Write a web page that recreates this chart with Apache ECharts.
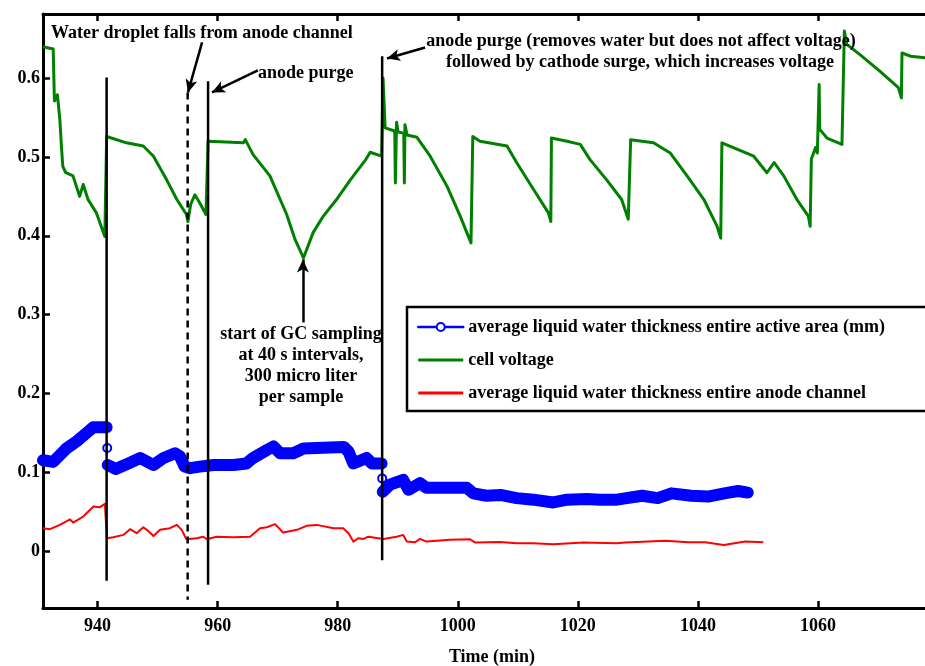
<!DOCTYPE html>
<html><head><meta charset="utf-8">
<script src="https://cdn.jsdelivr.net/npm/echarts@6/dist/echarts.min.js"></script>
<style>html,body{margin:0;padding:0;background:#fff}#c{width:925px;height:666px}</style>
</head><body><div id="c"></div>
<script>
// ---------------- data ----------------
const xTicks = [940, 960, 980, 1000, 1020, 1040, 1060];
const yTicks = [0, 0.1, 0.2, 0.3, 0.4, 0.5, 0.6];
const seriesNames = [
  'average liquid water thickness entire active area (mm)',
  'cell voltage',
  'average liquid water thickness entire anode channel'
];

// cell voltage (green)
const voltTime = [930.9,932.6,932.8,933.3,933.5,933.7,934.0,934.2,934.7,935.9,937.0,937.6,938.4,939.8,941.2,
  941.5,944.8,947.6,949.3,951.5,953.2,954.8,955.05,955.5,956.2,957.0,958.05,
  958.4,964.3,964.6,965.9,968.7,971.5,972.9,974.3,975.9,977.6,979.8,982.1,984.7,985.4,987.3,
  987.55,987.9,989.5,989.6,989.8,990.05,991.0,991.1,991.2,991.55,993.2,995.4,998.2,1000.4,1002.2,
  1002.5,1003.7,1008.2,1009.8,1012.6,1015.1,1015.5,
  1015.6,1018.2,1020.4,1022.0,1024.8,1027.3,1028.4,
  1028.8,1032.6,1035.4,1038.2,1041.0,1043.2,1043.8,
  1044.0,1045.9,1049.3,1051.5,1052.7,1054.3,1056.5,1058.4,1058.7,
  1058.9,1059.6,1059.9,1060.2,1060.3,1061.5,1064.0,
  1064.4,1064.8,1067.0,1070.3,1073.4,1073.9,
  1074.0,1075.4,1077.9,1080.5];
const voltValue = [0.640,0.637,0.571,0.579,0.577,0.548,0.510,0.488,0.480,0.476,0.450,0.465,0.446,0.429,0.399,
  0.526,0.518,0.514,0.501,0.471,0.446,0.427,0.418,0.440,0.452,0.442,0.427,
  0.520,0.518,0.522,0.503,0.476,0.427,0.395,0.372,0.404,0.425,0.446,0.471,0.497,0.506,0.501,
  0.600,0.537,0.533,0.467,0.544,0.532,0.530,0.467,0.541,0.528,0.525,0.501,0.463,0.425,0.391,
  0.526,0.520,0.514,0.493,0.459,0.429,0.418,
  0.524,0.520,0.516,0.497,0.471,0.446,0.421,
  0.522,0.518,0.505,0.476,0.446,0.412,0.397,
  0.518,0.512,0.501,0.480,0.493,0.476,0.446,0.425,0.412,
  0.497,0.512,0.505,0.592,0.535,0.524,0.516,
  0.660,0.643,0.630,0.609,0.588,0.575,
  0.632,0.628,0.626,0.625];

// average liquid water thickness, entire active area (blue)
const areaTime = [930.9,932.6,934.8,936.5,938.2,939.3,941.5,941.6,941.7,943.0,945.4,947.1,949.3,951.0,952.9,953.7,
  954.5,955.4,957.0,959.3,962.6,964.8,965.9,968.2,969.3,970.4,972.6,974.3,976.5,981.0,981.8,982.6,984.8,985.7,
  987.3,987.4,987.5,988.7,990.9,991.8,993.7,994.8,998.2,1001.5,1002.6,1004.8,1007.1,1009.8,1012.6,1015.9,1018.2,
  1021.5,1023.7,1026.5,1030.7,1033.3,1035.6,1038.9,1041.7,1044.4,1046.7,1048.3];
const areaValue = [0.115,0.113,0.130,0.139,0.150,0.157,0.157,0.1305,0.109,0.104,0.112,0.118,0.109,0.118,0.124,0.120,
  0.107,0.105,0.107,0.109,0.109,0.111,0.118,0.128,0.1325,0.124,0.124,0.130,0.1305,0.132,0.126,0.111,0.118,0.111,
  0.111,0.092,0.075,0.084,0.090,0.0775,0.086,0.080,0.080,0.080,0.073,0.070,0.071,0.067,0.065,0.0615,0.065,
  0.066,0.065,0.065,0.070,0.067,0.073,0.070,0.069,0.073,0.076,0.074];
const areaIsolated = [7, 35]; // single samples drawn as separate circles at the jumps

// average liquid water thickness, anode channel (red)
const channelTime = [930.9,932.05,933.7,935.4,935.9,937.6,939.3,940.4,941.2,941.55,942.6,944.3,945.4,946.5,947.6,
  948.2,949.3,950.4,952.05,953.2,954.0,954.8,956.5,957.6,958.2,959.8,962.6,965.4,967.05,968.2,969.55,970.9,973.2,
  974.8,976.5,979.3,980.9,981.8,982.6,983.4,984.3,985.1,987.6,989.8,990.9,991.5,992.9,993.7,994.8,998.7,1002.05,
  1002.9,1007.05,1009.8,1012.6,1015.9,1020.9,1026.5,1027.9,1034.6,1038.4,1041.2,1044.3,1047.9,1050.9];
const channelValue = [0.0288,0.0276,0.033,0.040,0.036,0.0436,0.0563,0.0555,0.0597,0.016,0.0174,0.0203,0.0276,0.0225,0.030,
  0.0267,0.019,0.0267,0.0288,0.033,0.0267,0.0148,0.016,0.018,0.0148,0.018,0.0174,0.018,0.0288,0.030,0.034,0.0233,0.0267,
  0.0318,0.033,0.0288,0.0288,0.0225,0.0118,0.016,0.0152,0.018,0.0152,0.018,0.0203,0.0118,0.011,0.0152,0.0118,0.014,0.0148,
  0.0105,0.0114,0.0098,0.0098,0.0085,0.0105,0.0098,0.0105,0.013,0.011,0.011,0.0076,0.0118,0.011];

// event markers (vertical lines): time, top, bottom, dashed?
const eventTime   = [941.5, 955.0, 958.4, 987.4];
const eventTop    = [0.601, 0.582, 0.596, 0.628];
const eventBottom = [-0.038, -0.062, -0.043, -0.012];
const eventDashed = [false, true, false, false];

// annotation arrows: [fromTime, fromValue, toTime, toValue]
const arrowFromTime  = [957.4, 966.7, 994.55, 974.2];
const arrowFromValue = [0.6455, 0.610, 0.639, 0.290];
const arrowToTime    = [955.05, 959.05, 988.2, 974.2];
const arrowToValue   = [0.582, 0.582, 0.625, 0.370];

const annotationTexts = [
  'Water droplet falls from anode channel',
  'anode purge',
  'anode purge (removes water but does not affect voltage)',
  'followed by cathode surge, which increases voltage',
  'start of GC sampling\nat 40 s intervals,\n300 micro liter\nper sample'
];

// ---------------- chart ----------------
const FONT = '"Liberation Serif", "Times New Roman", serif';
const chart = echarts.init(document.getElementById('c'), null, {renderer: 'canvas'});

const zip = (a, b) => a.map((t, i) => [t, b[i]]);

const areaData = [];
areaTime.forEach((t, i) => {
  if (areaIsolated.includes(i)) {
    areaData.push([t, '-']);
    areaData.push({value: [t, areaValue[i]], symbol: 'emptyCircle', symbolSize: 8});
    areaData.push([t, '-']);
  } else {
    areaData.push({value: [t, areaValue[i]], symbol: 'none'});
  }
});

const eventSeries = eventTime.map((t, i) => ({
  type: 'line', name: 'event' + i, silent: true, z: 5,
  data: [[t, eventTop[i]], [t, eventBottom[i]]],
  symbol: 'none', animation: false,
  lineStyle: {color: '#000', width: 2.5, type: eventDashed[i] ? [7, 5] : 'solid'}
}));
eventSeries[0].markLine = {
  silent: true, animation: false,
  symbol: ['none', 'arrow'], symbolSize: [9, 13],
  lineStyle: {color: '#000', width: 2.5, type: 'solid'},
  label: {show: false},
  emphasis: {disabled: true},
  data: arrowFromTime.map((t, i) => [
    {coord: [t, arrowFromValue[i]]},
    {coord: [arrowToTime[i], arrowToValue[i]]}
  ])
};

const axisCommon = {
  type: 'value', min: 930.9, max: 1080.5,
  splitLine: {show: false},
  axisLine: {show: true, onZero: false, lineStyle: {color: '#000', width: 3}},
  axisTick: {show: true, inside: true, length: 7, customValues: xTicks, lineStyle: {color: '#000', width: 2.5}}
};

const textStyle = {fontFamily: FONT, fontWeight: 'bold', fontSize: 18, fill: '#000', verticalAlign: 'middle'};
const txt = (x, y, text, align, extra) => ({
  type: 'text', x: x, y: y, z: 10, silent: true,
  style: Object.assign({text: text, align: align}, textStyle, extra || {})
});

chart.setOption({
  animation: false,
  backgroundColor: '#fff',
  grid: {left: 43, top: 14, right: -16, bottom: 58, containLabel: false, outerBoundsMode: 'none'},
  xAxis: [
    Object.assign({}, axisCommon, {
      position: 'bottom',
      axisLabel: {customValues: xTicks, color: '#000', fontFamily: FONT, fontWeight: 'bold', fontSize: 18, margin: 9,
        formatter: v => String(v)},
      name: 'Time (min)', nameLocation: 'middle', nameGap: 40,
      nameTextStyle: {color: '#000', fontFamily: FONT, fontWeight: 'bold', fontSize: 18}
    }),
    Object.assign({}, axisCommon, {position: 'top', axisLabel: {show: false}})
  ],
  yAxis: {
    type: 'value', min: -0.0725, max: 0.6815,
    splitLine: {show: false},
    axisLine: {show: true, onZero: false, lineStyle: {color: '#000', width: 3}},
    axisTick: {show: true, inside: true, length: 7, customValues: yTicks, lineStyle: {color: '#000', width: 2.5}},
    axisLabel: {customValues: yTicks, color: '#000', fontFamily: FONT, fontWeight: 'bold', fontSize: 18, margin: 3,
      formatter: v => (Math.abs(v) < 1e-9 ? '0' : v.toFixed(1))}
  },
  legend: {
    orient: 'vertical', left: 407, top: 307, align: 'left',
    backgroundColor: '#fff', borderColor: '#000', borderWidth: 2.5,
    padding: [11, 60, 9, 10], itemGap: 15, itemWidth: 45, itemHeight: 10,
    selectedMode: false,
    textStyle: {color: '#000', fontFamily: FONT, fontWeight: 'bold', fontSize: 18},
    data: [
      {name: seriesNames[0], lineStyle: {width: 2.5}},
      {name: seriesNames[1], icon: 'path://M0,0H45V3H0Z'},
      {name: seriesNames[2], icon: 'path://M0,0H45V3H0Z'}
    ]
  },
  series: [
    {
      type: 'line', name: seriesNames[1], data: zip(voltTime, voltValue),
      symbol: 'none', color: '#008000', z: 2,
      lineStyle: {color: '#008000', width: 3, join: 'round'}
    },
    {
      type: 'line', name: seriesNames[0], data: areaData, connectNulls: false,
      symbol: 'emptyCircle', symbolSize: 8, showSymbol: true, color: '#0000ff', z: 3,
      itemStyle: {color: '#0000ff', borderColor: '#0000ff', borderWidth: 2},
      lineStyle: {color: '#0000ff', width: 12, cap: 'round', join: 'round'}
    },
    {
      type: 'line', name: seriesNames[2], data: zip(channelTime, channelValue),
      symbol: 'none', color: '#ff0000', z: 3,
      lineStyle: {color: '#ff0000', width: 2, join: 'round'}
    }
  ].concat(eventSeries),
  graphic: [
    txt(51, 33, annotationTexts[0], 'left'),
    txt(258, 73, annotationTexts[1], 'left'),
    txt(641, 41, annotationTexts[2], 'center'),
    txt(640, 62, annotationTexts[3], 'center'),
    txt(301, 366, annotationTexts[4], 'center', {lineHeight: 21})
  ]
});
</script></body></html>
